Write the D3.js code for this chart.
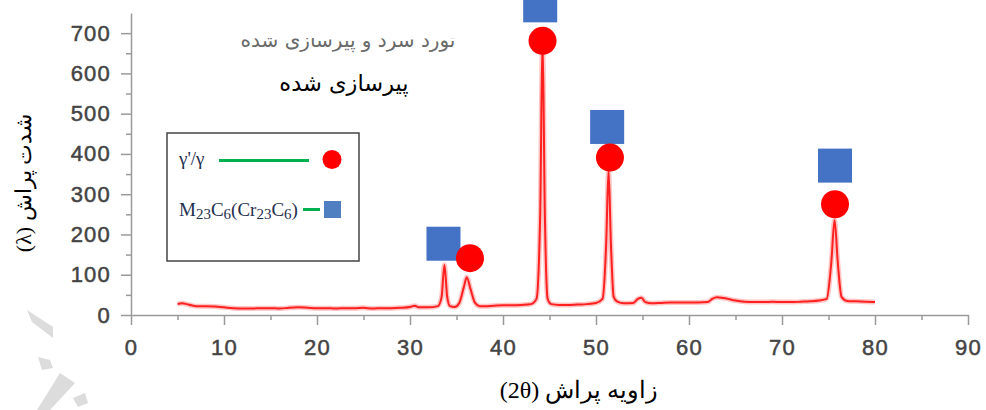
<!DOCTYPE html>
<html>
<head>
<meta charset="utf-8">
<script src="https://cdn.jsdelivr.net/npm/d3@7"></script>
<style>
  html, body { margin: 0; padding: 0; background: #fff; }
  #root { width: 986px; height: 410px; }
</style>
</head>
<body>
<div id="root"></div>
<script>
// diffraction profile (2theta, intensity)
const twoTheta = [5, 5.5, 6, 6.5, 7, 8, 9, 10, 11, 12, 13, 14, 15, 16, 17, 18, 19, 20, 21, 22, 23, 24, 25, 26, 27, 28, 29, 30, 30.5, 31, 32, 33, 33.4, 33.7, 34, 34.3, 34.8, 35.3, 35.8, 36.1, 36.5, 37, 37.5, 38, 39, 40, 41, 42, 43, 43.6, 44, 44.25, 44.5, 44.8, 45.2, 46, 47, 48, 49, 50, 50.7, 51.1, 51.35, 51.6, 51.9, 52.3, 53, 54, 54.5, 54.9, 55.3, 56, 57, 58, 59, 60, 61, 62, 62.5, 63, 63.5, 64, 65, 66, 67, 68, 69, 70, 71, 72, 73, 74, 74.8, 75.3, 75.65, 76, 76.4, 77, 78, 79, 80];
const intensity = [27, 29, 27, 24, 22, 22, 21, 19, 17, 16, 16, 17, 17, 16, 18, 19, 18, 17, 17, 16, 17, 17, 18, 16, 17, 17, 18, 20, 23, 19, 19, 22, 45, 124, 45, 22, 20, 30, 70, 94, 65, 30, 22, 22, 23, 24, 24, 25, 27, 40, 250, 690, 250, 40, 27, 25, 25, 26, 27, 30, 40, 180, 360, 180, 45, 33, 29, 30, 40, 43, 32, 29, 30, 31, 31, 31, 31, 32, 40, 44, 43, 41, 36, 33, 32, 32, 33, 32, 32, 33, 34, 36, 40, 130, 236, 130, 45, 35, 34, 33, 32];

// phase markers
const gammaX = [36.45, 44.25, 51.5, 75.7];
const gammaY = [141, 681, 391, 275];
const carbideX = [33.6, 44.0, 51.2, 75.7];
const carbideY = [177, 769, 467, 371];

const xTicks = [0, 10, 20, 30, 40, 50, 60, 70, 80, 90];
const yTicks = [0, 100, 200, 300, 400, 500, 600, 700];

const W = 986, H = 410;

const svg = d3.select('#root').append('svg')
  .attr('width', W)
  .attr('height', H);

const x = d3.scaleLinear().domain([0, 90]).range([131, 968]);
const y = d3.scaleLinear().domain([0, 750]).range([315, 13]);

// faint watermark in the lower left corner
const wm = [
  [[27, 310], [53, 327], [53, 338], [32, 322]],
  [[38, 357], [50, 360], [53, 368], [42, 370]],
  [[60, 373], [75, 383], [50, 410], [37, 410]],
  [[73, 398], [85, 393], [88, 403], [78, 407]],
];
svg.selectAll('.wm')
  .data(wm)
  .enter()
  .append('polygon')
    .attr('class', 'wm')
    .attr('points', (d) => d.map((p) => p.join(',')).join(' '))
    .attr('fill', '#dcdcdc');

// axes
const axisColor = '#9a9a9a';
const tickFont = '"Liberation Sans", Arial, sans-serif';

const xAxis = svg.append('g')
  .attr('transform', 'translate(0,' + y(0) + ')')
  .call(d3.axisBottom(x).tickValues(xTicks).tickSize(10).tickSizeOuter(0).tickPadding(14));
const xMinor = svg.append('g')
  .attr('transform', 'translate(0,' + y(0) + ')')
  .call(d3.axisBottom(x).tickValues(d3.range(5, 90, 10)).tickSize(5).tickFormat(''));
xMinor.select('.domain').remove();

const yAxis = svg.append('g')
  .attr('transform', 'translate(' + x(0) + ',0)')
  .call(d3.axisLeft(y).tickValues(yTicks).tickSize(10).tickSizeOuter(0).tickPadding(10));
const yMinor = svg.append('g')
  .attr('transform', 'translate(' + x(0) + ',0)')
  .call(d3.axisLeft(y).tickValues(d3.range(50, 750, 100)).tickSize(5).tickFormat(''));
yMinor.select('.domain').remove();

[xAxis, xMinor, yAxis, yMinor].forEach((g) => {
  g.selectAll('path, line').attr('stroke', axisColor).attr('stroke-width', 1.5);
  g.selectAll('text')
    .attr('fill', '#444')
    .attr('font-family', tickFont)
    .attr('font-size', 22)
    .attr('letter-spacing', 1.2)
    .attr('stroke', '#444')
    .attr('stroke-width', 0.5);
});

// profile
const profile = twoTheta.map((t, i) => [t, intensity[i]]);
const line = d3.line()
  .x((d) => x(d[0]))
  .y((d) => y(d[1]))
  .curve(d3.curveMonotoneX);

svg.append('path')
  .datum(profile)
  .attr('d', line)
  .attr('fill', 'none')
  .attr('stroke', 'rgba(255,60,60,0.3)')
  .attr('stroke-width', 5);
svg.append('path')
  .datum(profile)
  .attr('d', line)
  .attr('fill', 'none')
  .attr('stroke', '#ff2020')
  .attr('stroke-width', 2);

// markers
const sq = 34;
svg.selectAll('.carbide')
  .data(carbideX.map((v, i) => [v, carbideY[i]]))
  .enter()
  .append('rect')
    .attr('class', 'carbide')
    .attr('x', (d) => x(d[0]) - sq / 2)
    .attr('y', (d) => y(d[1]) - sq / 2)
    .attr('width', sq)
    .attr('height', sq)
    .attr('fill', '#4472c4');

svg.selectAll('.gamma')
  .data(gammaX.map((v, i) => [v, gammaY[i]]))
  .enter()
  .append('circle')
    .attr('class', 'gamma')
    .attr('cx', (d) => x(d[0]))
    .attr('cy', (d) => y(d[1]))
    .attr('r', 14)
    .attr('fill', '#ff0000');

// titles inside the plot (the upper one is cut off in the original)
svg.append('clipPath')
  .attr('id', 'topclip')
  .append('rect')
    .attr('x', 200).attr('y', 38).attr('width', 300).attr('height', 30);
svg.append('text')
  .attr('clip-path', 'url(#topclip)')
  .attr('x', 348)
  .attr('y', 47)
  .attr('text-anchor', 'middle')
  .attr('direction', 'rtl')
  .attr('font-family', '"DejaVu Sans", sans-serif')
  .attr('font-size', 20)
  .attr('fill', '#6a6a6a')
  .text('تورد سرد و پیرسازی شده');

svg.append('text')
  .attr('x', 344)
  .attr('y', 91)
  .attr('text-anchor', 'middle')
  .attr('direction', 'rtl')
  .attr('font-family', '"DejaVu Sans", sans-serif')
  .attr('font-size', 22.5)
  .attr('fill', '#000')
  .text('پیرسازی شده');

// legend
const legend = svg.append('g');
legend.append('rect')
  .attr('x', 167).attr('y', 133)
  .attr('width', 192).attr('height', 128)
  .attr('fill', '#fff')
  .attr('stroke', '#444')
  .attr('stroke-width', 1.5);

const serif = '"Liberation Serif", "Times New Roman", serif';
legend.append('text')
  .attr('x', 179).attr('y', 165)
  .attr('font-family', serif)
  .attr('font-size', 19)
  .attr('fill', '#1f2f4f')
  .text("γ'/γ");
legend.append('line')
  .attr('x1', 219).attr('x2', 309).attr('y1', 160.5).attr('y2', 160.5)
  .attr('stroke', '#00b050').attr('stroke-width', 3);
legend.append('circle')
  .attr('cx', 332).attr('cy', 159.5).attr('r', 9.5)
  .attr('fill', '#ff0000');

const t2 = legend.append('text')
  .attr('x', 179).attr('y', 216)
  .attr('font-family', serif)
  .attr('font-size', 19)
  .attr('fill', '#1f2f4f');
[['M', false], ['23', true], ['C', false], ['6', true], ['(Cr', false], ['23', true], ['C', false], ['6', true], [')', false]]
  .forEach(([s, sub]) => {
    const ts = t2.append('tspan').text(s);
    if (sub) ts.attr('font-size', 15).attr('dy', 3);
    else ts.attr('dy', t2.selectAll('tspan').size() > 1 ? -3 : 0);
  });
legend.append('line')
  .attr('x1', 303).attr('x2', 320).attr('y1', 209.5).attr('y2', 209.5)
  .attr('stroke', '#00b050').attr('stroke-width', 3);
legend.append('rect')
  .attr('x', 324).attr('y', 201)
  .attr('width', 17).attr('height', 17)
  .attr('fill', '#4f7fc0');

// axis titles
svg.append('text')
  .attr('transform', 'translate(31,183) rotate(-90)')
  .attr('text-anchor', 'middle')
  .attr('direction', 'rtl')
  .attr('font-family', serif)
  .attr('font-size', 22)
  .attr('fill', '#000')
  .text('شدت پراش (λ)');

svg.append('text')
  .attr('x', 579)
  .attr('y', 398)
  .attr('text-anchor', 'middle')
  .attr('direction', 'rtl')
  .attr('font-family', serif)
  .attr('font-size', 24)
  .attr('fill', '#000')
  .text('زاویه پراش (2θ)');
</script>
</body>
</html>
